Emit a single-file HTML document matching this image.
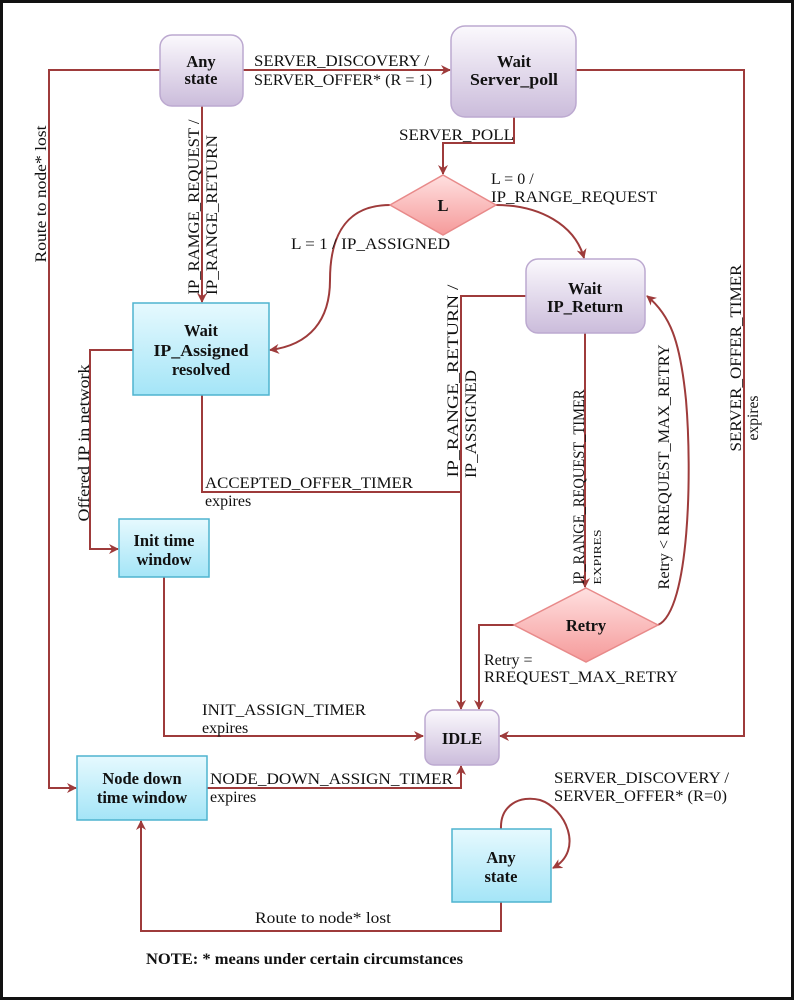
<!DOCTYPE html>
<html><head><meta charset="utf-8"><style>
html,body{margin:0;padding:0;background:#fff}
svg{display:block}
text{font-family:"Liberation Serif",serif;font-size:16px;fill:#111}
.b{font-weight:bold;font-size:16.5px}
</style></head><body>
<svg width="794" height="1000" viewBox="0 0 794 1000" xmlns="http://www.w3.org/2000/svg">
<defs>
<linearGradient id="pu" x1="0" y1="0" x2="0" y2="1"><stop offset="0" stop-color="#fbf9fd"/><stop offset="1" stop-color="#cbbcdb"/></linearGradient>
<linearGradient id="cy" x1="0" y1="0" x2="0" y2="1"><stop offset="0" stop-color="#e6f9fe"/><stop offset="1" stop-color="#a4e5f7"/></linearGradient>
<linearGradient id="rd" x1="0" y1="0" x2="0" y2="1"><stop offset="0" stop-color="#ffe0e0"/><stop offset="1" stop-color="#f59a9a"/></linearGradient>
<marker id="ar" markerWidth="10" markerHeight="10" refX="9" refY="5" orient="auto" markerUnits="userSpaceOnUse"><path d="M0,0 L10,5 L0,10 L3,5 z" fill="#9e3b3b"/></marker>
</defs>
<rect x="1.5" y="1.5" width="791" height="997" fill="#fff" stroke="#111" stroke-width="3"/>
<g fill="none" stroke="#9e3b3b" stroke-width="2">
<polyline points="160,70 49,70 49,788 76,788" marker-end="url(#ar)"/>
<line x1="243" y1="70" x2="450" y2="70" marker-end="url(#ar)"/>
<polyline points="576,70 744,70 744,736 500,736" marker-end="url(#ar)"/>
<polyline points="514,117 514,143 443,143 443,174" marker-end="url(#ar)"/>
<line x1="202" y1="106" x2="202" y2="302" marker-end="url(#ar)"/>
<path d="M390,205 C340,205 330,245 330,280 C330,320 310,345 270,350" marker-end="url(#ar)"/>
<path d="M496,205 C540,205 575,225 584,258" marker-end="url(#ar)"/>
<polyline points="526,296 461,296 461,709" marker-end="url(#ar)"/>
<line x1="585" y1="333" x2="585" y2="587" marker-end="url(#ar)"/>
<path d="M658,625 C690,610 692,470 686,400 C680,340 670,315 647,296" marker-end="url(#ar)"/>
<polyline points="514,625 479,625 479,709" marker-end="url(#ar)"/>
<polyline points="202,395 202,492 461,492"/>
<polyline points="133,350 90,350 90,549 118,549" marker-end="url(#ar)"/>
<polyline points="164,577 164,736 423,736" marker-end="url(#ar)"/>
<polyline points="207,788 461,788 461,766" marker-end="url(#ar)"/>
<polyline points="501,902 501,931 141,931 141,821" marker-end="url(#ar)"/>
<path d="M501,829 C500,805 520,795 540,800 C565,808 585,850 553,868" marker-end="url(#ar)"/>
</g>
<rect x="160" y="35" width="83" height="71" rx="12" fill="url(#pu)" stroke="#bca9d0" stroke-width="1.5"/>
<rect x="451" y="26" width="125" height="91" rx="14" fill="url(#pu)" stroke="#bca9d0" stroke-width="1.5"/>
<rect x="526" y="259" width="119" height="74" rx="12" fill="url(#pu)" stroke="#bca9d0" stroke-width="1.5"/>
<rect x="425" y="710" width="74" height="55" rx="9" fill="url(#pu)" stroke="#bca9d0" stroke-width="1.5"/>
<rect x="133" y="303" width="136" height="92" fill="url(#cy)" stroke="#4fb4cf" stroke-width="1.5"/>
<rect x="119" y="519" width="90" height="58" fill="url(#cy)" stroke="#4fb4cf" stroke-width="1.5"/>
<rect x="77" y="756" width="130" height="64" fill="url(#cy)" stroke="#4fb4cf" stroke-width="1.5"/>
<rect x="452" y="829" width="99" height="73" fill="url(#cy)" stroke="#4fb4cf" stroke-width="1.5"/>
<polygon points="443,175 496,205 443,235 390,205" fill="url(#rd)" stroke="#e88a8a" stroke-width="1.5"/>
<polygon points="586,588 658,625 586,662 514,625" fill="url(#rd)" stroke="#e88a8a" stroke-width="1.5"/>
<g text-anchor="middle">
<text class="b" x="201" y="67">Any</text><text class="b" x="201" y="84">state</text>
<text class="b" x="514" y="67">Wait</text><text class="b" x="514" y="85" textLength="88" lengthAdjust="spacingAndGlyphs">Server_poll</text>
<text class="b" x="443" y="211">L</text>
<text class="b" x="585" y="294">Wait</text><text class="b" x="585" y="312" textLength="76" lengthAdjust="spacingAndGlyphs">IP_Return</text>
<text class="b" x="201" y="336">Wait</text><text class="b" x="201" y="356" textLength="95" lengthAdjust="spacingAndGlyphs">IP_Assigned</text><text class="b" x="201" y="375">resolved</text>
<text class="b" x="164" y="546">Init time</text><text class="b" x="164" y="565">window</text>
<text class="b" x="142" y="784">Node down</text><text class="b" x="142" y="803">time window</text>
<text class="b" x="462" y="744">IDLE</text>
<text class="b" x="586" y="631">Retry</text>
<text class="b" x="501" y="863">Any</text><text class="b" x="501" y="882">state</text>
</g>
<g lengthAdjust="spacingAndGlyphs">
<text x="254" y="66" textLength="175" lengthAdjust="spacingAndGlyphs">SERVER_DISCOVERY /</text>
<text x="254" y="85" textLength="178" lengthAdjust="spacingAndGlyphs">SERVER_OFFER* (R = 1)</text>
<text x="399" y="140" textLength="115" lengthAdjust="spacingAndGlyphs">SERVER_POLL</text>
<text x="491" y="184">L = 0 /</text>
<text x="491" y="202" textLength="166" lengthAdjust="spacingAndGlyphs">IP_RANGE_REQUEST</text>
<text x="291" y="249" textLength="159" lengthAdjust="spacingAndGlyphs">L = 1 / IP_ASSIGNED</text>
<text x="205" y="488" textLength="208" lengthAdjust="spacingAndGlyphs">ACCEPTED_OFFER_TIMER</text>
<text x="205" y="506">expires</text>
<text x="484" y="665">Retry =</text>
<text x="484" y="682" textLength="194" lengthAdjust="spacingAndGlyphs">RREQUEST_MAX_RETRY</text>
<text x="202" y="715" textLength="164" lengthAdjust="spacingAndGlyphs">INIT_ASSIGN_TIMER</text>
<text x="202" y="733">expires</text>
<text x="210" y="784" textLength="243" lengthAdjust="spacingAndGlyphs">NODE_DOWN_ASSIGN_TIMER</text>
<text x="210" y="802">expires</text>
<text x="554" y="783" textLength="175" lengthAdjust="spacingAndGlyphs">SERVER_DISCOVERY /</text>
<text x="554" y="801" textLength="173" lengthAdjust="spacingAndGlyphs">SERVER_OFFER* (R=0)</text>
<text x="255" y="923" textLength="136" lengthAdjust="spacingAndGlyphs">Route to node* lost</text>
<text x="146" y="964" style="font-weight:bold" textLength="317" lengthAdjust="spacingAndGlyphs">NOTE: * means under certain circumstances</text>
</g>
<g text-anchor="middle">
<text transform="translate(46,194) rotate(-90)" textLength="137" lengthAdjust="spacingAndGlyphs">Route to node* lost</text>
<text transform="translate(199,207) rotate(-90)" textLength="175" lengthAdjust="spacingAndGlyphs">IP_RAMGE_REQUEST /</text>
<text transform="translate(217,215) rotate(-90)" textLength="160" lengthAdjust="spacingAndGlyphs">IP_RANGE_RETURN</text>
<text transform="translate(89,443) rotate(-90)" textLength="157" lengthAdjust="spacingAndGlyphs">Offered IP in network</text>
<text transform="translate(458,381) rotate(-90)" textLength="193" lengthAdjust="spacingAndGlyphs">IP_RANGE_RETURN /</text>
<text transform="translate(476,424) rotate(-90)" textLength="108" lengthAdjust="spacingAndGlyphs">IP_ASSIGNED</text>
<text transform="translate(584,487) rotate(-90)" textLength="195" lengthAdjust="spacingAndGlyphs">IP_RANGE_REQUEST_TIMER</text>
<text transform="translate(601,557) rotate(-90)" style="font-size:11px" textLength="55" lengthAdjust="spacingAndGlyphs">EXPIRES</text>
<text transform="translate(669,467) rotate(-90)" textLength="245" lengthAdjust="spacingAndGlyphs">Retry &lt;  RREQUEST_MAX_RETRY</text>
<text transform="translate(741,358) rotate(-90)" textLength="187" lengthAdjust="spacingAndGlyphs">SERVER_OFFER_TIMER</text>
<text transform="translate(758,418) rotate(-90)" textLength="45" lengthAdjust="spacingAndGlyphs">expires</text>
</g>
</svg>
</body></html>
